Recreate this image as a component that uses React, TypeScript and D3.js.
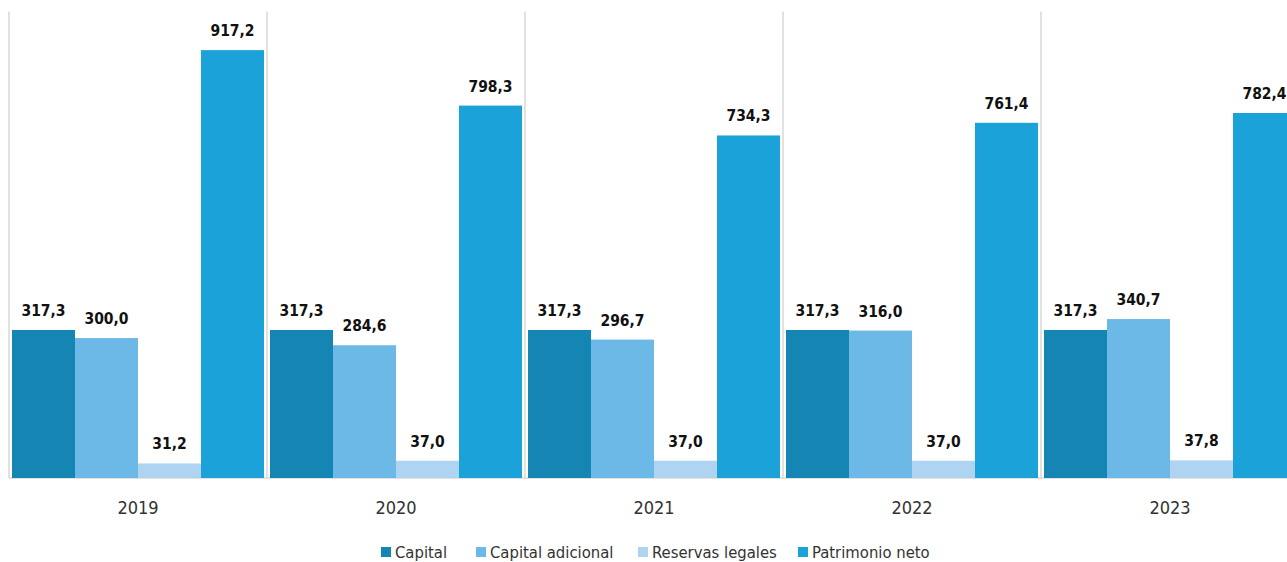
import React from "react";
import * as d3 from "d3";

const years = ["2019", "2020", "2021", "2022", "2023"];
const seriesNames = ["Capital", "Capital adicional", "Reservas legales", "Patrimonio neto"];
const capital = [317.3, 317.3, 317.3, 317.3, 317.3];
const capitalAdicional = [300.0, 284.6, 296.7, 316.0, 340.7];
const reservasLegales = [31.2, 37.0, 37.0, 37.0, 37.8];
const patrimonioNeto = [917.2, 798.3, 734.3, 761.4, 782.4];
const colors = ["#1585B4", "#6CB8E7", "#AED4F1", "#1BA2D8"];

const W = 1287;
const H = 562;
const left = 9;
const step = 258;
const top = 11.5;
const bottom = 478;

export default function App() {
  const series = [capital, capitalAdicional, reservasLegales, patrimonioNeto];
  const x0 = d3.scaleBand().domain(years).range([left, left + step * years.length]).padding(0);
  const x1 = d3.scaleBand().domain(seriesNames).range([3, x0.bandwidth() - 3]).padding(0);
  const y = d3.scaleLinear().domain([0, 1000]).range([bottom, top]);
  const fmt = (v: number) => d3.format(".1f")(v).replace(".", ",");
  const font = "'DejaVu Sans Condensed', 'DejaVu Sans', sans-serif";

  const legendX = [381, 476, 638, 798];

  return (
    <svg width={W} height={H} style={{ position: "absolute", left: 0, top: 0 }}>
      <rect width={W} height={H} fill="#fff" />
      {d3.range(years.length + 1).map((i) => (
        <line key={"g" + i} x1={left + i * step} x2={left + i * step} y1={top} y2={bottom} stroke="#D9D9D9" strokeWidth={1.5} />
      ))}
      <line x1={left} x2={W} y1={bottom} y2={bottom} stroke="#D9D9D9" strokeWidth={1.5} />
      {years.map((yr, i) => (
        <g key={yr} transform={`translate(${x0(yr)},0)`}>
          {seriesNames.map((s, j) => {
            const v = series[j][i];
            const bx = x1(s)!;
            return (
              <g key={s}>
                <rect x={bx} y={y(v)} width={x1.bandwidth()} height={bottom - y(v)} fill={colors[j]} />
                <text x={bx + x1.bandwidth() / 2} y={y(v) - 14} textAnchor="middle" fontFamily={font} fontWeight="bold" fontSize={15.5} fill="#111">
                  {fmt(v)}
                </text>
              </g>
            );
          })}
          <text x={x0.bandwidth() / 2} y={514} textAnchor="middle" fontFamily={font} fontSize={18} fill="#333">
            {yr}
          </text>
        </g>
      ))}
      {seriesNames.map((s, j) => (
        <g key={s} transform={`translate(${legendX[j]},0)`}>
          <rect x={0} y={547} width={10} height={10} fill={colors[j]} />
          <text x={14} y={558} fontFamily={font} fontSize={16.5} fill="#333">
            {s}
          </text>
        </g>
      ))}
    </svg>
  );
}
